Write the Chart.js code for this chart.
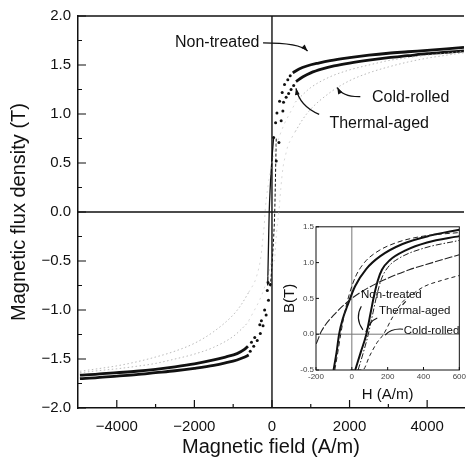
<!DOCTYPE html>
<html>
<head>
<meta charset="utf-8">
<script src="https://cdn.jsdelivr.net/npm/chart.js@4.4.1/dist/chart.umd.min.js"></script>
<style>
  html, body { margin: 0; padding: 0; background: #fff; }
  #wrap { position: relative; width: 468px; height: 465px; overflow: hidden; }
  #mainChart { position: absolute; left: 0; top: 0; }
  #insetChart { position: absolute; left: 270px; top: 220px; }
</style>
</head>
<body>
<div id="wrap">
  <canvas id="mainChart" width="468" height="465"></canvas>
  <canvas id="insetChart" width="198" height="190"></canvas>
</div>
<script>
// ---- main plot: ticks ----
const xTicks = [-4000, -2000, 0, 2000, 4000];
const xMinorTicks = [-3000, -1000, 1000, 3000];
const yTicks = [-2, -1.5, -1, -0.5, 0, 0.5, 1, 1.5, 2];
const yMinorTicks = [-1.75, -1.25, -0.75, -0.25, 0.25, 0.75, 1.25, 1.75];

// ---- main plot data, H (A/m) / B (T) ----
// Non-treated
const ntPosH = [536, 700, 900, 1200, 1500, 2000, 2500, 3000, 3500, 4000, 4500, 4950];
const ntPosB = [1.42, 1.46, 1.49, 1.52, 1.545, 1.575, 1.60, 1.62, 1.635, 1.65, 1.665, 1.68];
const ntNegH = [-4950, -4500, -4000, -3500, -3000, -2500, -2000, -1500, -1200, -900, -700, -600];
const ntNegB = [-1.70, -1.69, -1.675, -1.66, -1.64, -1.62, -1.595, -1.565, -1.54, -1.51, -1.48, -1.46];
const ntDotH = [43, 94, 128, 196, 264, 323, 408, 470, -45, -90, -150, -230, -300, -380, -470, -560];
const ntDotB = [0.76, 0.91, 1.01, 1.13, 1.22, 1.30, 1.35, 1.39, -0.74, -0.90, -1.05, -1.16, -1.24, -1.31, -1.37, -1.42];
const ntSteepH = [-110, -85, -71, -45, -20, 10, 43];
const ntSteepB = [-0.75, -0.25, 0, 0.25, 0.42, 0.6, 0.76];
const ntSteep2H = [-43, -10, 20, 45, 71, 85, 110];
const ntSteep2B = [-0.76, -0.6, -0.42, -0.25, 0, 0.25, 0.75];

// Thermal-aged
const taPosH = [620, 800, 1000, 1300, 1600, 2000, 2500, 3000, 3500, 4000, 4500, 4950];
const taPosB = [1.33, 1.38, 1.42, 1.46, 1.49, 1.52, 1.55, 1.575, 1.595, 1.615, 1.63, 1.645];
const taNegH = [-4950, -4500, -4000, -3500, -3000, -2500, -2000, -1500, -1200, -900, -700, -620];
const taNegB = [-1.665, -1.655, -1.64, -1.625, -1.605, -1.58, -1.55, -1.51, -1.48, -1.445, -1.40, -1.37];
const taDotH = [110, 179, 237, 281, 298, 365, 430, 492, 560, -102, -120, -190, -273, -314, -444, -528];
const taDotB = [0.52, 0.71, 0.93, 1.03, 1.12, 1.17, 1.21, 1.25, 1.29, -0.72, -0.80, -1.0, -1.11, -1.15, -1.28, -1.33];

// Cold-rolled (faint)
const crPosH = [600, 800, 1000, 1500, 2000, 2500, 3000, 3500, 4000, 4500, 4950];
const crPosUpB = [1.12, 1.2, 1.27, 1.38, 1.45, 1.5, 1.545, 1.575, 1.60, 1.62, 1.64];
const crPosLoB = [0.82, 0.95, 1.05, 1.22, 1.34, 1.42, 1.48, 1.53, 1.57, 1.60, 1.625];
const crNegH = [-4950, -4500, -4000, -3500, -3000, -2500, -2000, -1500, -1000, -800, -600];
const crNegUpB = [-1.625, -1.60, -1.57, -1.53, -1.48, -1.42, -1.34, -1.22, -1.05, -0.95, -0.82];
const crNegLoB = [-1.64, -1.62, -1.60, -1.575, -1.545, -1.5, -1.45, -1.38, -1.27, -1.2, -1.12];
const crDescH = [-600, -407, -283, -230, -200, -170, -100, 0, 100, 200, 320, 450, 600];
const crDescB = [-0.82, -0.67, -0.45, -0.25, -0.14, 0.04, 0.27, 0.5, 0.66, 0.78, 0.9, 1.0, 1.11];
const crAscH = [-600, -450, -320, -200, -100, 0, 60, 100, 140, 177, 230, 283, 350, 407, 500, 600];
const crAscB = [-1.11, -1.0, -0.9, -0.78, -0.66, -0.5, -0.5, -0.3, -0.12, 0, 0.25, 0.45, 0.58, 0.67, 0.75, 0.82];

// ---- inset data (low field loops) ----
const insetXTicks = [-200, 0, 200, 400, 600];
const insetYTicks = [-0.5, 0, 0.5, 1, 1.5];
const ntDescH = [-102, -85, -71, -50, -26, 18, 80, 159, 283, 442, 600];
const ntDescB = [-0.5, -0.25, 0, 0.22, 0.39, 0.67, 0.91, 1.09, 1.26, 1.38, 1.46];
const ntAscH = [19, 50, 81, 105, 125, 145, 168, 210, 300, 420, 600];
const ntAscB = [-0.5, -0.25, 0, 0.3, 0.55, 0.75, 0.9, 1.03, 1.17, 1.28, 1.37];
const taDescH = [-95, -78, -62, -40, -15, 20, 70, 140, 250, 400, 600];
const taDescB = [-0.5, -0.25, 0, 0.3, 0.55, 0.8, 1.0, 1.15, 1.28, 1.37, 1.42];
const taAscH = [35, 65, 92, 118, 140, 165, 200, 270, 400, 600];
const taAscB = [-0.5, -0.25, 0, 0.3, 0.55, 0.77, 0.93, 1.07, 1.2, 1.31];

const FONT = "'Liberation Sans', Arial, Helvetica, sans-serif";
const INK = '#111';

function pts(hs, bs) {
  return hs.map((h, i) => ({ x: h, y: bs[i] }));
}
function line(data, color, width, dash) {
  return {
    data: data, showLine: true, borderColor: color, borderWidth: width,
    borderDash: dash || [], pointRadius: 0, cubicInterpolationMode: 'monotone'
  };
}
function dots(data) {
  return {
    data: data, showLine: false, pointRadius: 1.5, pointBorderWidth: 0,
    pointBackgroundColor: INK
  };
}

// arrow with a curved shaft, given in data coords
function curvedArrow(ctx, xs, ys, p0, c, p1) {
  const x0 = xs.getPixelForValue(p0[0]), y0 = ys.getPixelForValue(p0[1]);
  const cx = xs.getPixelForValue(c[0]), cy = ys.getPixelForValue(c[1]);
  const x1 = xs.getPixelForValue(p1[0]), y1 = ys.getPixelForValue(p1[1]);
  ctx.beginPath();
  ctx.moveTo(x0, y0);
  ctx.quadraticCurveTo(cx, cy, x1, y1);
  ctx.stroke();
  const a = Math.atan2(y1 - cy, x1 - cx);
  ctx.beginPath();
  ctx.moveTo(x1, y1);
  ctx.lineTo(x1 - 7 * Math.cos(a - 0.35), y1 - 7 * Math.sin(a - 0.35));
  ctx.lineTo(x1 - 7 * Math.cos(a + 0.35), y1 - 7 * Math.sin(a + 0.35));
  ctx.closePath();
  ctx.fill();
}

//main plot decorations: zero lines, inward ticks, top border, labels
const mainDeco = {
  id: 'mainDeco',
  beforeDatasetsDraw(chart) {
    const { ctx, chartArea: a, scales: { x, y } } = chart;
    ctx.save();
    ctx.strokeStyle = INK;
    ctx.lineWidth = 1.4;
    ctx.beginPath();
    ctx.moveTo(x.getPixelForValue(0), a.top);
    ctx.lineTo(x.getPixelForValue(0), a.bottom);
    ctx.moveTo(a.left, y.getPixelForValue(0));
    ctx.lineTo(a.right, y.getPixelForValue(0));
    ctx.stroke();
    ctx.restore();
  },
  afterDraw(chart) {
    const { ctx, chartArea: a, scales: { x, y } } = chart;
    ctx.save();
    ctx.strokeStyle = INK;
    ctx.fillStyle = INK;
    ctx.lineWidth = 1.5;
    ctx.beginPath();
    ctx.moveTo(a.left, a.top);
    ctx.lineTo(a.right, a.top);
    ctx.stroke();
    ctx.lineWidth = 1.2;
    ctx.beginPath();
    xTicks.forEach(v => { const px = x.getPixelForValue(v); ctx.moveTo(px, a.bottom); ctx.lineTo(px, a.bottom - 8); });
    xMinorTicks.forEach(v => { const px = x.getPixelForValue(v); ctx.moveTo(px, a.bottom); ctx.lineTo(px, a.bottom - 4); });
    yTicks.forEach(v => { const py = y.getPixelForValue(v); ctx.moveTo(a.left, py); ctx.lineTo(a.left + 8, py); });
    yMinorTicks.forEach(v => { const py = y.getPixelForValue(v); ctx.moveTo(a.left, py); ctx.lineTo(a.left + 4, py); });
    ctx.stroke();

    // labels with arrows
    ctx.font = '16px ' + FONT;
    ctx.textBaseline = 'middle';
    ctx.textAlign = 'left';
    ctx.fillText('Non-treated', x.getPixelForValue(-2500), y.getPixelForValue(1.725));
    ctx.fillText('Cold-rolled', x.getPixelForValue(2577), y.getPixelForValue(1.163));
    ctx.fillText('Thermal-aged', x.getPixelForValue(1480), y.getPixelForValue(0.898));
    ctx.lineWidth = 1.3;
    curvedArrow(ctx, x, y, [-230, 1.725], [714, 1.725], [918, 1.643]);
    curvedArrow(ctx, x, y, [2278, 1.177], [1811, 1.173], [1684, 1.27]);
    curvedArrow(ctx, x, y, [1217, 0.997], [714, 1.08], [620, 1.262]);
    ctx.restore();
  }
};

const gray = '#a8a8a8';
const paleGray = '#c8c8c8';
new Chart(document.getElementById('mainChart'), {
  type: 'scatter',
  data: {
    datasets: [
      line(pts(crPosH, crPosUpB), gray, 0.8, [1.5, 2.5]),
      line(pts(crPosH, crPosLoB), gray, 0.8, [1.5, 2.5]),
      line(pts(crNegH, crNegUpB), gray, 0.8, [1.5, 2.5]),
      line(pts(crNegH, crNegLoB), gray, 0.8, [1.5, 2.5]),
      line(pts(crDescH, crDescB), paleGray, 0.7, [2, 4]),
      line(pts(crAscH, crAscB), paleGray, 0.7, [2, 4]),
      line(pts(ntPosH, ntPosB), INK, 2.8),
      line(pts(ntNegH, ntNegB), INK, 2.8),
      line(pts(taPosH, taPosB), INK, 2.8),
      line(pts(taNegH, taNegB), INK, 2.8),
      line(pts(ntSteepH, ntSteepB), INK, 1.3),
      line(pts(ntSteep2H, ntSteep2B), INK, 1.0, [3, 2]),
      dots(pts(ntDotH, ntDotB)),
      dots(pts(taDotH, taDotB))
    ]
  },
  options: {
    responsive: false,
    devicePixelRatio: 1,
    animation: false,
    layout: { padding: { top: 16, right: 0, left: 0, bottom: 0 } },
    plugins: { legend: { display: false }, tooltip: { enabled: false } },
    scales: {
      x: {
        type: 'linear', min: -5000, max: 4950,
        grid: { display: false, drawTicks: false },
        border: { display: true, color: INK, width: 1.5 },
        afterBuildTicks: s => { s.ticks = xTicks.map(v => ({ value: v })); },
        afterFit: s => { s.height = 57; },
        ticks: {
          padding: 10, color: INK, font: { family: FONT, size: 15 },
          callback: v => String(v).replace('-', '\u2212')
        },
        title: {
          display: true, text: 'Magnetic field (A/m)', color: INK,
          font: { family: FONT, size: 20 }, padding: { top: 0, bottom: 6 }
        }
      },
      y: {
        type: 'linear', min: -2, max: 2,
        grid: { display: false, drawTicks: false },
        border: { display: true, color: INK, width: 1.5 },
        afterBuildTicks: s => { s.ticks = yTicks.map(v => ({ value: v })); },
        afterFit: s => { s.width = 78; },
        ticks: {
          padding: 7, color: INK, font: { family: FONT, size: 15 },
          callback: v => Number(v).toFixed(1).replace('-', '\u2212')
        },
        title: {
          display: true, text: 'Magnetic flux density (T)', color: INK,
          font: { family: FONT, size: 20 }, padding: { top: 7, bottom: 0 }
        }
      }
    }
  },
  plugins: [mainDeco]
});

// inset decorations
const insetDeco = {
  id: 'insetDeco',
  beforeDatasetsDraw(chart) {
    const { ctx, chartArea: a, scales: { x, y } } = chart;
    ctx.save();
    ctx.strokeStyle = '#777';
    ctx.lineWidth = 1;
    ctx.beginPath();
    ctx.moveTo(x.getPixelForValue(0), a.top);
    ctx.lineTo(x.getPixelForValue(0), a.bottom);
    ctx.moveTo(a.left, y.getPixelForValue(0));
    ctx.lineTo(a.right, y.getPixelForValue(0));
    ctx.stroke();
    ctx.restore();
  },
  afterDraw(chart) {
    const { ctx, chartArea: a, scales: { x, y } } = chart;
    ctx.save();
    ctx.strokeStyle = INK;
    ctx.fillStyle = INK;
    ctx.lineWidth = 1;
    ctx.strokeRect(a.left, a.top, a.right - a.left, a.bottom - a.top);
    ctx.beginPath();
    insetXTicks.forEach(v => { const px = x.getPixelForValue(v); ctx.moveTo(px, a.bottom); ctx.lineTo(px, a.bottom - 3); });
    insetYTicks.forEach(v => { const py = y.getPixelForValue(v); ctx.moveTo(a.left, py); ctx.lineTo(a.left + 3, py); });
    ctx.stroke();

    ctx.font = '11.5px ' + FONT;
    ctx.textBaseline = 'middle';
    ctx.textAlign = 'left';
    ctx.fillText('Non-treated', x.getPixelForValue(51), y.getPixelForValue(0.553));
    ctx.fillText('Thermal-aged', x.getPixelForValue(151), y.getPixelForValue(0.324));
    ctx.fillText('Cold-rolled', x.getPixelForValue(290), y.getPixelForValue(0.042));
    const q = (p0, c, p1) => {
      ctx.beginPath();
      ctx.moveTo(x.getPixelForValue(p0[0]), y.getPixelForValue(p0[1]));
      ctx.quadraticCurveTo(x.getPixelForValue(c[0]), y.getPixelForValue(c[1]),
        x.getPixelForValue(p1[0]), y.getPixelForValue(p1[1]));
      ctx.stroke();
    };
    ctx.lineWidth = 1.1;
    q([53, 0.39], [15, 0.22], [62, 0.06]);
    q([142, 0.225], [99, 0.18], [78, 0.03]);
    q([286, 0.07], [221, 0.085], [186, -0.014]);
    q([283, 0.41], [292, 0.435], [301, 0.46]);
    ctx.restore();
  }
};

new Chart(document.getElementById('insetChart'), {
  type: 'scatter',
  data: {
    datasets: [
      line(pts(crDescH, crDescB), '#222', 1.1, [8, 2]),
      line(pts(crAscH, crAscB), '#222', 1, [4, 3]),
      line(pts(taDescH, taDescB), '#222', 1, [5, 3]),
      line(pts(taAscH, taAscB), '#222', 1, [6, 2, 1.5, 2]),
      line(pts(ntDescH, ntDescB), INK, 2),
      line(pts(ntAscH, ntAscB), INK, 2)
    ]
  },
  options: {
    responsive: false,
    devicePixelRatio: 1,
    animation: false,
    layout: { padding: { top: 6, right: 2, left: 0, bottom: 0 } },
    plugins: { legend: { display: false }, tooltip: { enabled: false } },
    scales: {
      x: {
        type: 'linear', min: -200, max: 600,
        grid: { display: false, drawTicks: false },
        border: { display: false },
        afterBuildTicks: s => { s.ticks = insetXTicks.map(v => ({ value: v })); },
        afterFit: s => { s.height = 40; },
        ticks: { padding: 2, color: '#444', font: { family: FONT, size: 8 } },
        title: {
          display: true, text: 'H (A/m)', color: INK,
          font: { family: FONT, size: 15 }, padding: { top: 0, bottom: 6 }
        }
      },
      y: {
        type: 'linear', min: -0.5, max: 1.5,
        grid: { display: false, drawTicks: false },
        border: { display: false },
        afterBuildTicks: s => { s.ticks = insetYTicks.map(v => ({ value: v })); },
        afterFit: s => { s.width = 46; },
        ticks: {
          padding: 2, color: '#444', font: { family: FONT, size: 8 },
          callback: v => Number(v).toFixed(1)
        },
        title: {
          display: true, text: 'B(T)', color: INK,
          font: { family: FONT, size: 15 }, padding: { top: 11, bottom: 0 }
        }
      }
    }
  },
  plugins: [insetDeco]
});
</script>
</body>
</html>
